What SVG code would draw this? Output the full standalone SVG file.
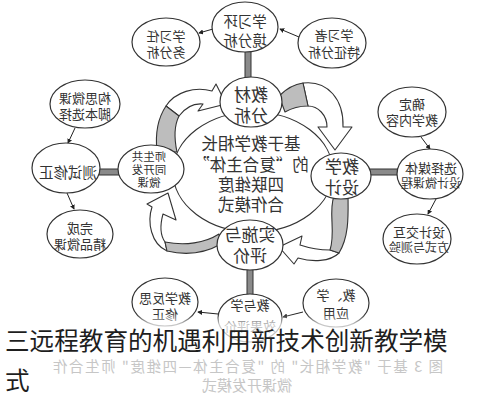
<svg xmlns="http://www.w3.org/2000/svg" width="478" height="400" viewBox="0 0 478 400">
<style>
.n{fill:#fff;stroke:#333;stroke-width:1.2}
.t{font-family:"Noto Sans CJK SC","Noto Sans CJK JP",sans-serif;fill:#333;text-anchor:middle;dominant-baseline:central}
.s13{font-size:13px}.s14{font-size:14.5px}.s12{font-size:12px}.s11{font-size:11.5px}.s16{font-size:16.5px}.s17{font-size:17px}
.c{stroke:#222;stroke-width:1;fill:none;marker-end:url(#ah)}
.bar{fill:#8a8a8a;stroke:#333;stroke-width:1}
.ca{fill:#fff;stroke:#333;stroke-width:1.1;stroke-linejoin:round}
.cg{fill:#bdbdbd;stroke:#333;stroke-width:1.1;stroke-linejoin:round}
.cap{font-family:"Noto Sans CJK SC",sans-serif;fill:#c6c6c6;text-anchor:middle}
.ttl{font-family:"Noto Sans CJK SC",sans-serif;fill:#1e1e1e;font-size:24.6px}
</style>
<defs>
<marker id="ah" viewBox="0 0 6 6" refX="5" refY="3" markerWidth="5" markerHeight="5" markerUnits="userSpaceOnUse" orient="auto"><path d="M0,0 L6,3 L0,6 z" fill="#222"/></marker>
<linearGradient id="fade" x1="0" y1="0" x2="0" y2="1"><stop offset="0" stop-color="#fff" stop-opacity="0"/><stop offset="0.12" stop-color="#fff" stop-opacity="0.72"/><stop offset="1" stop-color="#fff" stop-opacity="0.72"/></linearGradient>
</defs>
<rect width="478" height="400" fill="#fff"/>

<g id="center">
<ellipse class="n" cx="253" cy="172" rx="80" ry="60"/>
<text class="t s16" transform="scale(-1,1)" x="-251" y="143">基于教学相长</text>
<text class="t s16" transform="scale(-1,1)" x="-251" y="164">的“复合主体”</text>
<text class="t s16" transform="scale(-1,1)" x="-251" y="184">四联维度</text>
<text class="t s16" transform="scale(-1,1)" x="-251" y="204">合作模式</text>
</g>

<g id="connectors">
<line class="c" x1="299" y1="37" x2="280" y2="29"/>
<line class="c" x1="213" y1="29" x2="199" y2="33"/>
<line class="c" x1="75" y1="128" x2="68" y2="143"/>
<line class="c" x1="67" y1="193" x2="74" y2="209"/>
<line class="c" x1="421" y1="137" x2="430" y2="149"/>
<line class="c" x1="436" y1="199" x2="428" y2="214"/>
<line class="c" x1="218" y1="314" x2="198" y2="312"/>
<line class="c" x1="303" y1="312" x2="283" y2="317"/>
<rect class="bar" x="245" y="51" width="6" height="27"/>
<rect class="bar" x="247" y="268" width="6" height="27"/>
<rect class="bar" x="99" y="169" width="20" height="6"/>
<rect class="bar" x="369" y="169" width="29" height="6"/>
<path class="ca" d="M303,83 C328,80 344,100 343,127 L352,127 L335,150 L318,127 L327,127 C327,115 318,106 308,106 Z"/>
<path class="cg" d="M279,96 C287,88 295,84 303,83 L308,106 C300,106 292,108 285,112 Z"/>
<path class="ca" d="M339,253 C330,262 312,262 298,258 L294,264 L279,247 L302,236 L300,245 C312,249 322,250 330,250 Z"/>
<path class="cg" d="M334,196 C328,212 336,232 330,250 L339,253 C350,235 348,212 348,192 Z"/>
<path class="ca" d="M165,242 C160,235 160,225 163,214 L176,220 L168,193 L147,204 L152,207 C147,222 151,244 167,251 Z"/>
<path class="cg" d="M219,234 C205,243 185,246 165,242 L167,251 C188,256 207,252 221,244 Z"/>
<path class="ca" d="M166,106 C175,92 195,86 212,91 L216,84 L226,104 L198,111 L203,104 C193,103 185,108 179,116 Z"/>
<path class="cg" d="M157,151 C155,133 158,118 166,106 L179,116 C174,126 174,138 177,152 Z"/>
</g>

<g id="env">
<ellipse class="n" cx="245" cy="27" rx="33" ry="25"/>
<text class="t s14" transform="scale(-1,1)" x="-245" y="20">学习环</text>
<text class="t s14" transform="scale(-1,1)" x="-245" y="39">境分析</text>
</g>
<g id="task">
<ellipse class="n" cx="166" cy="42" rx="34" ry="24"/>
<text class="t s13" transform="scale(-1,1)" x="-166" y="35">学习任</text>
<text class="t s13" transform="scale(-1,1)" x="-166" y="51">务分析</text>
</g>
<g id="learner">
<ellipse class="n" cx="332" cy="43" rx="34" ry="25"/>
<text class="t s13" transform="scale(-1,1)" x="-334" y="34">学习者</text>
<text class="t s13" transform="scale(-1,1)" x="-334" y="51">特征分析</text>
</g>
<g id="textbook">
<ellipse class="n" cx="251" cy="102" rx="31" ry="25"/>
<text class="t s17" transform="scale(-1,1)" x="-251" y="93">教材</text>
<text class="t s17" transform="scale(-1,1)" x="-251" y="114">分析</text>
</g>
<g id="design">
<ellipse class="n" cx="341" cy="176" rx="30" ry="23"/>
<text class="t s17" transform="scale(-1,1)" x="-342" y="165">教学</text>
<text class="t s17" transform="scale(-1,1)" x="-342" y="186">设计</text>
</g>
<g id="implement">
<ellipse class="n" cx="250" cy="245" rx="33" ry="25"/>
<text class="t s17" transform="scale(-1,1)" x="-250" y="233">实施与</text>
<text class="t s17" transform="scale(-1,1)" x="-250" y="254">评价</text>
</g>
<g id="codev">
<ellipse class="n" cx="151" cy="169" rx="33" ry="24"/>
<text class="t s11" transform="scale(-1,1)" x="-149" y="156">师生共</text>
<text class="t s11" transform="scale(-1,1)" x="-149" y="169">同开发</text>
<text class="t s11" transform="scale(-1,1)" x="-149" y="182">微课</text>
</g>
<g id="script">
<ellipse class="n" cx="85" cy="104" rx="35" ry="24"/>
<text class="t s13" transform="scale(-1,1)" x="-85" y="97">构思微课</text>
<text class="t s13" transform="scale(-1,1)" x="-85" y="113">脚本选择</text>
</g>
<g id="test">
<ellipse class="n" cx="66" cy="168" rx="34" ry="25"/>
<text class="t s14" transform="scale(-1,1)" x="-68" y="171">测试修正</text>
</g>
<g id="finish">
<ellipse class="n" cx="80" cy="234" rx="33" ry="24"/>
<text class="t s13" transform="scale(-1,1)" x="-80" y="227">完成</text>
<text class="t s13" transform="scale(-1,1)" x="-80" y="243">精品微课</text>
</g>
<g id="content">
<ellipse class="n" cx="412" cy="112" rx="34" ry="25"/>
<text class="t s13" transform="scale(-1,1)" x="-412" y="103">确定</text>
<text class="t s13" transform="scale(-1,1)" x="-412" y="119">教学内容</text>
</g>
<g id="media">
<ellipse class="n" cx="430" cy="174" rx="33" ry="25"/>
<text class="t s13" transform="scale(-1,1)" x="-431" y="167">选择媒体</text>
<text class="t s12" transform="scale(-1,1)" x="-431" y="182">设计微课程</text>
</g>
<g id="interact">
<ellipse class="n" cx="417" cy="239" rx="34" ry="25"/>
<text class="t s13" transform="scale(-1,1)" x="-419" y="231">设计交互</text>
<text class="t s12" transform="scale(-1,1)" x="-419" y="246">方式与测验</text>
</g>
<g id="reflect">
<ellipse class="n" cx="165" cy="302" rx="33" ry="24"/>
<text class="t s13" transform="scale(-1,1)" x="-165" y="297">教学反思</text>
<text class="t s13" transform="scale(-1,1)" x="-165" y="313">修正</text>
</g>
<g id="evaluate">
<ellipse class="n" cx="250" cy="318" rx="32" ry="24"/>
<text class="t s13" transform="scale(-1,1)" x="-250" y="304">教与学</text>
<text class="t s13" transform="scale(-1,1)" x="-250" y="325">效果评价</text>
</g>
<g id="apply">
<ellipse class="n" cx="336" cy="303" rx="33" ry="24"/>
<text class="t s13" transform="scale(-1,1)" x="-336" y="294">教、学</text>
<text class="t s13" transform="scale(-1,1)" x="-336" y="312">应用</text>
</g>

<rect x="0" y="314" width="478" height="86" fill="url(#fade)"/>
<text class="cap" font-size="14.5" transform="scale(-1,1)" x="-248" y="372" textLength="390">图 3  基于 "教学相长" 的 "复合主体—四维度" 师生合作</text>
<text class="cap" font-size="15" transform="scale(-1,1)" x="-247" y="391">微课开发模式</text>
<text class="ttl" x="5" y="350">三远程教育的机遇利用新技术创新教学模</text>
<text class="ttl" x="5" y="390">式</text>
</svg>
